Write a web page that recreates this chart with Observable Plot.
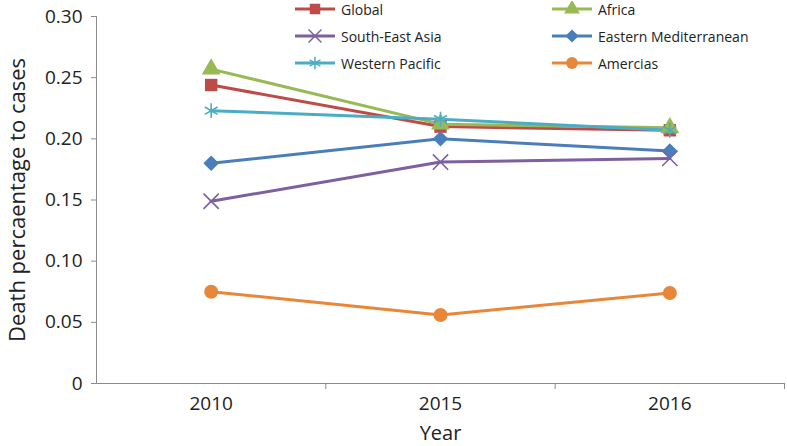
<!DOCTYPE html>
<html><head><meta charset="utf-8">
<script src="https://cdn.jsdelivr.net/npm/d3@7"></script>
<script src="https://cdn.jsdelivr.net/npm/@observablehq/plot@0.6"></script>
<style>
body{margin:0;background:#fff;font-family:"Open Sans",sans-serif;}
#wrap{position:relative;width:787px;height:446px;}
.leg{position:absolute;display:flex;align-items:center;font-size:14px;color:#222;white-space:nowrap;height:16px;}
.leg svg{margin-right:6px;}
</style></head><body><div id="wrap"></div>
<script>
const years = ["2010", "2015", "2016"];
const seriesNames = ["Global", "Africa", "South-East Asia", "Eastern Mediterranean", "Western Pacific", "Amercias"];
const globalVals = [0.244, 0.210, 0.207];
const africaVals = [0.257, 0.212, 0.209];
const seAsiaVals = [0.149, 0.181, 0.184];
const eMedVals = [0.180, 0.200, 0.190];
const wPacificVals = [0.223, 0.216, 0.207];
const americasVals = [0.075, 0.056, 0.074];
const yTicks = [0, 0.05, 0.10, 0.15, 0.20, 0.25, 0.30];
const colors = ["#be4b48", "#98b954", "#7d60a0", "#4a7ebb", "#4bacc6", "#e8873a"];
const symbols = ["square", "triangle", "times", "diamond2", "asterisk", "circle"];
const strokedSymbols = new Set(["times", "asterisk"]);

const valueLists = [globalVals, africaVals, seAsiaVals, eMedVals, wPacificVals, americasVals];
const data = [];
seriesNames.forEach((s, k) => valueLists[k].forEach((v, i) => data.push({series: s, xi: i, year: years[i], value: v, sym: symbols[k]})));
const filled = data.filter(d => !strokedSymbols.has(d.sym));
const stroked = data.filter(d => strokedSymbols.has(d.sym));
const xBounds = [-0.5, 0.5, 1.5, 2.5];

const chart = Plot.plot({
  width: 787, height: 446,
  marginLeft: 96, marginRight: 3, marginTop: 16, marginBottom: 63,
  style: {fontFamily: "Open Sans, sans-serif", color: "#222", background: "white"},
  x: {domain: [xBounds[0], xBounds[3]], axis: null},
  y: {domain: [0, 0.30], axis: null},
  color: {domain: seriesNames, range: colors},
  symbol: {domain: seriesNames, range: symbols},
  marks: [
    Plot.ruleX([xBounds[0]], {stroke: "#8a8a8a", strokeWidth: 1}),
    Plot.ruleY([0], {stroke: "#8a8a8a", strokeWidth: 1}),
    Plot.axisY({ticks: yTicks, tickFormat: d => d === 0 ? "0" : d.toFixed(2), tickSize: 5, tickPadding: 9, fontSize: 19, label: null, stroke: "#8a8a8a", fill: "#222"}),
    Plot.axisX({ticks: [0, 1, 2], tickFormat: i => years[i], tickSize: 0, tickPadding: 13, fontSize: 19, label: null, fill: "#222"}),
    Plot.axisX({ticks: xBounds.slice(1), tickFormat: () => "", tickSize: 6, label: null, stroke: "#8a8a8a"}),
    Plot.text(["Year"], {frameAnchor: "bottom", lineAnchor: "middle", dy: 50, fontSize: 20, fill: "#222"}),
    Plot.text(["Death percaentage to cases"], {frameAnchor: "left", textAnchor: "middle", lineAnchor: "middle", rotate: -90, dx: -79, fontSize: 22, fill: "#222"}),
    Plot.line(data, {x: "xi", y: "value", z: "series", stroke: "series", strokeWidth: 3}),
    Plot.dot(filled, {x: "xi", y: "value", symbol: "series", fill: "series", stroke: "none", r: 7}),
    Plot.dot(stroked, {x: "xi", y: "value", symbol: "series", stroke: "series", fill: "none", strokeWidth: 1.6, r: 7})
  ]
});
const wrap = document.getElementById("wrap");
wrap.appendChild(chart);

// legend
const legendPos = [[295, 0], [552, 0], [295, 1], [552, 1], [295, 2], [552, 2]];
seriesNames.forEach((s, k) => {
  const div = document.createElement("div");
  div.className = "leg";
  div.style.left = legendPos[k][0] + "px";
  div.style.top = (1 + legendPos[k][1] * 27) + "px";
  const svg = d3.create("svg").attr("width", 40).attr("height", 16);
  svg.append("line").attr("x1", 0).attr("x2", 40).attr("y1", 8).attr("y2", 8).attr("stroke", colors[k]).attr("stroke-width", 3);
  const symMap = {square: d3.symbolSquare, triangle: d3.symbolTriangle, times: d3.symbolTimes, diamond2: d3.symbolDiamond2, asterisk: d3.symbolAsterisk, circle: d3.symbolCircle};
  const p = svg.append("path").attr("transform", "translate(20,8)").attr("d", d3.symbol(symMap[symbols[k]], 110)());
  if (strokedSymbols.has(symbols[k])) p.attr("fill", "none").attr("stroke", colors[k]).attr("stroke-width", 1.5);
  else p.attr("fill", colors[k]);
  div.appendChild(svg.node());
  const span = document.createElement("span");
  span.textContent = s;
  div.appendChild(span);
  wrap.appendChild(div);
});
</script></body></html>
